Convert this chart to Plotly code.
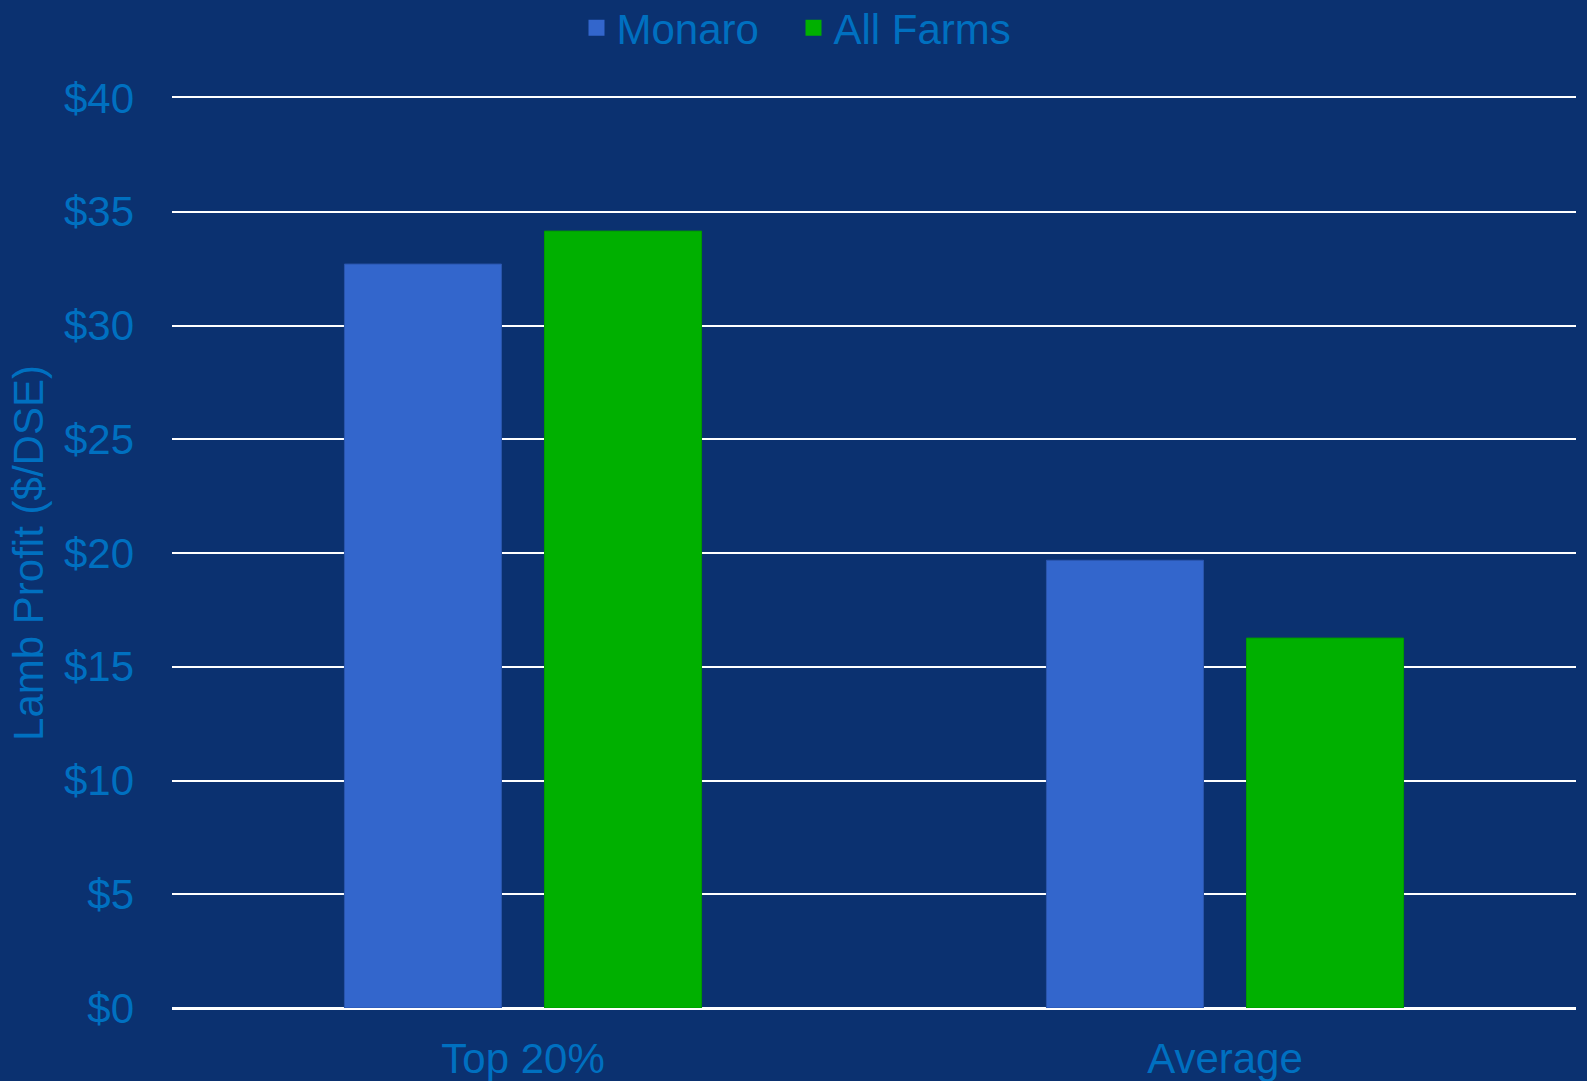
import plotly.graph_objects as go

categories = ["Top 20%", "Average"]
series_names = ["Monaro", "All Farms"]
series_colors = ["#3366CC", "#00B000"]
monaro = [32.70, 19.68]
all_farms = [34.15, 16.26]
tick_vals = [0, 5, 10, 15, 20, 25, 30, 35, 40]
tick_text = ["$0", "$5", "$10", "$15", "$20", "$25", "$30", "$35", "$40"]

TEXT = "#0070C0"
FONT = "Liberation Sans, Arial, sans-serif"

fig = go.Figure()
fig.add_trace(go.Bar(name=series_names[0], x=categories, y=monaro, showlegend=False,
                     marker=dict(color=series_colors[0], line=dict(color="#2a55ad", width=1))))
fig.add_trace(go.Bar(name=series_names[1], x=categories, y=all_farms, showlegend=False,
                     marker=dict(color=series_colors[1], line=dict(color="#009a00", width=1))))
# legend entries (square swatches)
for name, col in zip(series_names, series_colors):
    fig.add_trace(go.Scatter(name=name, x=[None], y=[None], mode="markers",
                             marker=dict(symbol="square", size=22, color=col)))

fig.update_layout(
    width=1587, height=1081,
    margin=dict(l=172, r=11, t=98, b=73, autoexpand=False),
    paper_bgcolor="#0b3170", plot_bgcolor="rgba(0,0,0,0)",
    font=dict(family=FONT, size=42, color=TEXT),
    barmode="group", bargap=0.43, bargroupgap=0.215,
    legend=dict(orientation="h", xref="container", yref="container",
                x=0.5, xanchor="center", y=1 - 28 / 1081, yanchor="middle",
                font=dict(size=42, color=TEXT), itemwidth=30, entrywidth=172,
                bgcolor="rgba(0,0,0,0)"),
    showlegend=True,
)
fig.update_yaxes(range=[0, 40], tickvals=tick_vals, ticktext=tick_text,
                 showgrid=True, gridcolor="white", gridwidth=1.5,
                 zeroline=True, zerolinecolor="white", zerolinewidth=2,
                 showline=False, ticks="", ticklabelstandoff=37, automargin=False,
                 tickfont=dict(size=42, color=TEXT),
                 title=dict(text="Lamb Profit ($/DSE)", standoff=7,
                            font=dict(size=42, color=TEXT)))
fig.update_xaxes(showgrid=False, showline=True, mirror=True, linecolor="white",
                 linewidth=1.5, ticks="", ticklabelstandoff=13, automargin=False,
                 tickfont=dict(size=42, color=TEXT))

fig.write_html("out.html", config={"displayModeBar": False},
               post_script="document.body.style.margin='0';document.body.style.background='#0b3170';")
